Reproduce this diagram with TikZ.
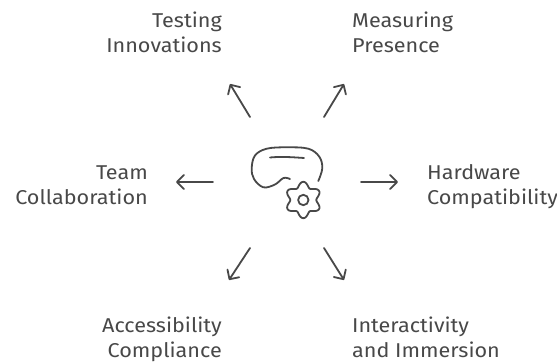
\documentclass[tikz,border=0pt]{standalone}
\usepackage{fontspec}
\setmainfont{Fira Sans}[FakeStretch=1.08]
\definecolor{ink}{HTML}{484848}
\usetikzlibrary{arrows.meta}
\tikzset{
  lbl/.style={text=ink,font=\fontsize{20}{25}\selectfont,inner sep=0pt},
  lblr/.style={lbl,align=right,anchor=east},
  lbll/.style={lbl,align=left,anchor=west},
  spoke/.style={draw=ink,line width=1.8pt,line cap=round,line join=round,-{Straight Barb[length=7pt,width=14pt,line width=1.8pt,round]}},
  icon/.style={draw=ink,line width=1.8pt,line cap=round,line join=round}
}
\begin{document}
\begin{tikzpicture}[x=1pt,y=-1pt]
\useasboundingbox (0,0) rectangle (557,363);
\fill[white] (0,0) rectangle (557,363);
\node[lblr] (ti) at (222,35.5) {\strut Testing\\\strut Innovations};
\node[lbll] (mp) at (352,35.5) {\strut Measuring\\\strut Presence};
\node[lblr] (tc) at (148,187.5) {\strut Team\\\strut Collaboration};
\node[lbll] (hc) at (427,187.5) {\strut Hardware\\\strut Compatibility};
\node[lblr] (ac) at (222,340.5) {\strut Accessibility\\\strut Compliance};
\node[lbll] (ii) at (352,340.5) {\strut Interactivity\\\strut and Immersion};
\coordinate (a1s) at (250,117); \coordinate (a1e) at (230,84);
\coordinate (a2s) at (324,117); \coordinate (a2e) at (344,84);
\coordinate (a3s) at (213,182); \coordinate (a3e) at (176,182);
\coordinate (a4s) at (361,182); \coordinate (a4e) at (398,182);
\coordinate (a5s) at (250,248); \coordinate (a5e) at (229,280);
\coordinate (a6s) at (324,248); \coordinate (a6e) at (344,280);
\draw[spoke] (a1s) -- (a1e);
\draw[spoke] (a2s) -- (a2e);
\draw[spoke] (a3s) -- (a3e);
\draw[spoke] (a4s) -- (a4e);
\draw[spoke] (a5s) -- (a5e);
\draw[spoke] (a6s) -- (a6e);
% headset
\draw[icon] plot[smooth,tension=0.6] coordinates {(290,179) (283.5,178) (275,184.5) (263.3,187.3) (254,179) (251.7,168.3) (255,155.5) (266.7,148.7) (286.7,147.3) (308.3,148.7) (319.3,156.7) (322.3,168.3) (318.3,181)};
\draw[icon] (270,157.5) .. controls (280,156.5) and (290,157) .. (304,158);
% gear
\draw[icon,smooth,samples=120,domain=0:360,variable=\t] plot ({303.3+(15.6+2.6*cos(6*(\t-90)))*cos(\t)},{200+(15.6+2.6*cos(6*(\t-90)))*sin(\t)}) -- cycle;
\draw[icon] (303.3,200) circle (5.2);
\end{tikzpicture}
\end{document}
